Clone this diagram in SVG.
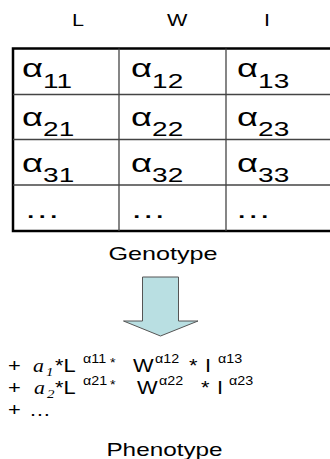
<svg xmlns="http://www.w3.org/2000/svg" width="330" height="459" viewBox="0 0 330 459">
<style>
text{font-family:"Liberation Sans",Arial,sans-serif;fill:#000}
.hdr{font-size:16px}
.cell{font-size:26px}
.sub{font-size:20px}
.lbl{font-size:18px}
.f{font-size:19px}
.sup{font-size:13px}
.it{font-family:"Liberation Serif","Times New Roman",serif;font-style:italic}
.grid{stroke:#444;stroke-width:1.3;fill:none}
.border{stroke:#000;stroke-width:2.5;fill:none}
.arrow{fill:#b9dfe2;stroke:#555;stroke-width:1}
</style>
<g id="headers">
<text class="hdr" transform="translate(72,26) scale(1.35,1)">L</text>
<text class="hdr" transform="translate(167,26) scale(1.35,1)">W</text>
<text class="hdr" transform="translate(264,26) scale(1.35,1)">I</text>
</g>
<g id="genotype-table">
<rect class="border" x="13" y="48.5" width="322" height="182.5"/>
<g class="grid">
<line x1="119" y1="48.5" x2="119" y2="231"/>
<line x1="226" y1="48.5" x2="226" y2="231"/>
<line x1="13" y1="94.5" x2="335" y2="94.5"/>
<line x1="13" y1="139.5" x2="335" y2="139.5"/>
<line x1="13" y1="185" x2="335" y2="185"/>
</g>
<text class="cell" transform="translate(22,77) scale(1.4,1)">α<tspan class="sub" dy="11">11</tspan></text>
<text class="cell" transform="translate(131,77) scale(1.4,1)">α<tspan class="sub" dy="11">12</tspan></text>
<text class="cell" transform="translate(237,77) scale(1.4,1)">α<tspan class="sub" dy="11">13</tspan></text>
<text class="cell" transform="translate(22,126) scale(1.4,1)">α<tspan class="sub" dy="10">21</tspan></text>
<text class="cell" transform="translate(131,126) scale(1.4,1)">α<tspan class="sub" dy="10">22</tspan></text>
<text class="cell" transform="translate(237,126) scale(1.4,1)">α<tspan class="sub" dy="10">23</tspan></text>
<text class="cell" transform="translate(22,172) scale(1.4,1)">α<tspan class="sub" dy="10">31</tspan></text>
<text class="cell" transform="translate(131,172) scale(1.4,1)">α<tspan class="sub" dy="10">32</tspan></text>
<text class="cell" transform="translate(237,172) scale(1.4,1)">α<tspan class="sub" dy="10">33</tspan></text>
<text class="cell" transform="translate(24,218) scale(1.4,1)">…</text>
<text class="cell" transform="translate(130,218) scale(1.4,1)">…</text>
<text class="cell" transform="translate(235,218) scale(1.4,1)">…</text>
</g>
<g id="genotype-label">
<text class="lbl" text-anchor="middle" transform="translate(163,260) scale(1.4,1)">Genotype</text>
</g>
<g id="connectors">
<polygon class="arrow" points="142.5,277 178.5,277 178.5,321 198,321 160.5,336 123.5,321 142.5,321"/>
</g>
<g id="phenotype-formula">
<text class="f" transform="translate(8,372) scale(1.15,1)">+</text>
<text class="f it" transform="translate(33,372) scale(1.15,1)">a</text>
<text class="sup it" transform="translate(46,376) scale(1.15,1)">1</text>
<text class="f" transform="translate(55,372) scale(1.15,1)">*L</text>
<text class="sup" transform="translate(83,363) scale(1.1,1)">α11</text>
<text class="sup" transform="translate(110,367) scale(1.1,1)">*</text>
<text class="f" transform="translate(133,372) scale(1.15,1)">W</text>
<text class="sup" transform="translate(155,363) scale(1.1,1)">α12</text>
<text class="f" transform="translate(189,372) scale(1.15,1)">*</text>
<text class="f" transform="translate(205,372) scale(1.15,1)">I</text>
<text class="sup" transform="translate(218,363) scale(1.1,1)">α13</text>

<text class="f" transform="translate(8,394) scale(1.15,1)">+</text>
<text class="f it" transform="translate(34,394) scale(1.15,1)">a</text>
<text class="sup it" transform="translate(47,398) scale(1.15,1)">2</text>
<text class="f" transform="translate(55,394) scale(1.15,1)">*L</text>
<text class="sup" transform="translate(83,385) scale(1.1,1)">α21</text>
<text class="sup" transform="translate(110,389) scale(1.1,1)">*</text>
<text class="f" transform="translate(137,394) scale(1.15,1)">W</text>
<text class="sup" transform="translate(159,385) scale(1.1,1)">α22</text>
<text class="f" transform="translate(201,394) scale(1.15,1)">*</text>
<text class="f" transform="translate(217,394) scale(1.15,1)">I</text>
<text class="sup" transform="translate(229,385) scale(1.1,1)">α23</text>

<text class="f" transform="translate(8,416) scale(1.15,1)">+</text>
<text class="f" transform="translate(29,416) scale(1.15,1)">…</text>
</g>
<g id="phenotype-label">
<text class="lbl" text-anchor="middle" transform="translate(164.5,456) scale(1.35,1)">Phenotype</text>
</g>
</svg>
